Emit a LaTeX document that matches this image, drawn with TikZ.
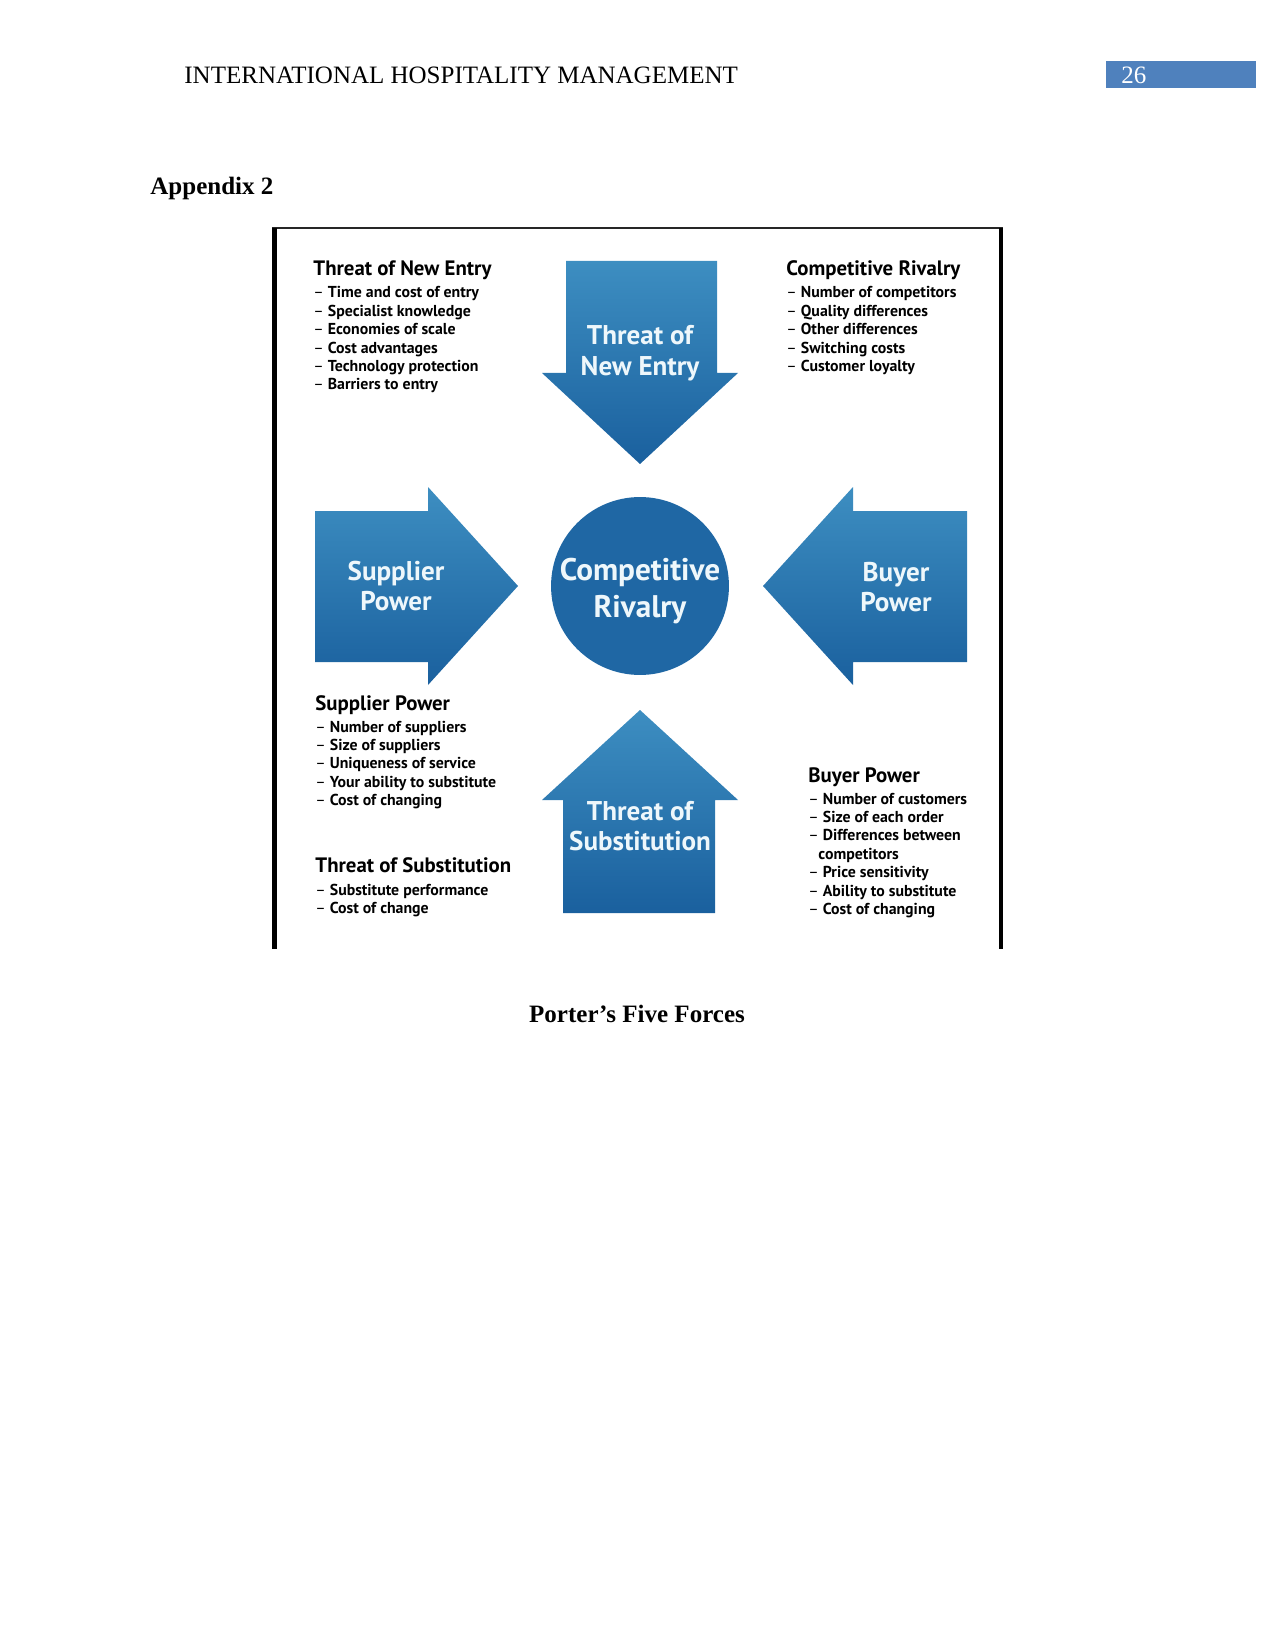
\documentclass[tikz,border=0pt]{standalone}
\usepackage{fontspec}
\setmainfont{Liberation Serif}
\newfontfamily\diafont{PT Sans}
\usetikzlibrary{positioning}

\definecolor{forceTop}{HTML}{3D8EC1}
\definecolor{forceBot}{HTML}{1A609E}
\definecolor{rivalBlue}{HTML}{1F67A4}
\definecolor{pageBlue}{HTML}{4F81BD}
\definecolor{labelWhite}{HTML}{EEF7FB}

\newcommand{\itemdash}{{\mdseries –}\ }

\begin{document}
\begin{tikzpicture}[x=0.48pt, y=-0.48pt,
  force/.style={shade, top color=forceTop, bottom color=forceBot, draw=none},
  flbl/.style={font=\diafont\bfseries\fontsize{13}{14.6}\selectfont,
               text=labelWhite, align=center, inner sep=0pt},
  ttl/.style={font=\diafont\bfseries\fontsize{10}{11}\selectfont,
              anchor=base west, inner sep=0pt},
  itm/.style={font=\diafont\bfseries\fontsize{7.6}{8.8}\selectfont,
              anchor=base west, inner sep=0pt}
]
  \useasboundingbox (0,0) rectangle (1275,1650);

  % Kopfzeile
  \node[anchor=base west, inner sep=0pt, font=\fontsize{12}{14}\selectfont]
    (head) at (184,84) {INTERNATIONAL HOSPITALITY MANAGEMENT};
  \fill[pageBlue] (1106,61) rectangle (1256,88);
  \node[anchor=base west, inner sep=0pt, text=white, font=\fontsize{12}{14}\selectfont]
    (pnum) at (1121,84) {26};
  \node[anchor=base west, inner sep=0pt, font=\bfseries\fontsize{12}{14}\selectfont]
    (app) at (150,195) {Appendix 2};

  % Rahmen des Bildes
  \draw[black!85, line width=0.8pt] (272,228) -- (1003,228);
  \fill[black] (272,228) rectangle (277,949);
  \fill[black] (999,228) rectangle (1003,949);

  % Pfeile
  \path[force] (566,261) -- (717,261) -- (717,373) -- (738,373) -- (640,464)
    -- (542,373) -- (566,373) -- cycle;
  \path[force] (640,710) -- (738,800) -- (715,800) -- (715,913) -- (563,913)
    -- (563,800) -- (542,800) -- cycle;
  \path[force] (315,511) -- (428,511) -- (428,487) -- (518,586) -- (428,685)
    -- (428,662) -- (315,662) -- cycle;
  \path[force] (967,511) -- (853,511) -- (853,487) -- (763,586) -- (853,685)
    -- (853,662) -- (967,662) -- cycle;

  % Kreis in der Mitte
  \node[circle, fill=rivalBlue, minimum size=85.4pt, inner sep=0pt]
    (rival) at (640,586) {};
  \node[flbl, font=\diafont\bfseries\fontsize{15}{17.5}\selectfont]
    (rivalLbl) at ([yshift=-2.4pt]rival.center) {Competitive\\Rivalry};

  % Beschriftung der Pfeile
  \node[flbl] (tneLbl) at (640,353) {Threat of\\New Entry};
  \node[flbl] (tosLbl) at (640,826) {Threat of\\Substitution};
  \node[flbl] (spLbl)  at (396,586) {Supplier\\Power};
  \node[flbl] (bpLbl)  at (896,587) {Buyer\\Power};

  % Listen
  \node[ttl] (tneTtl) at (313,276) {Threat of New Entry};
  \foreach \t [count=\i] in {Time and cost of entry, Specialist knowledge,
      Economies of scale, Cost advantages, Technology protection, Barriers to entry}
    \node[itm] (tne\i) at (313,298+18.4*\i-18.4) {\itemdash\t};

  \node[ttl] (crTtl) at (786,276) {Competitive Rivalry};
  \foreach \t [count=\i] in {Number of competitors, Quality differences,
      Other differences, Switching costs, Customer loyalty}
    \node[itm] (cr\i) at (786,298+18.4*\i-18.4) {\itemdash\t};

  \node[ttl] (spTtl) at (315,710) {Supplier Power};
  \foreach \t [count=\i] in {Number of suppliers, Size of suppliers,
      Uniqueness of service, Your ability to substitute, Cost of changing}
    \node[itm] (sp\i) at (315,732+18.4*\i-18.4) {\itemdash\t};

  \node[ttl] (tosTtl) at (315,872) {Threat of Substitution};
  \foreach \t [count=\i] in {Substitute performance, Cost of change}
    \node[itm] (tos\i) at (315,895+18.4*\i-18.4) {\itemdash\t};

  \node[ttl] (bpTtl) at (808,782) {Buyer Power};
  \node[itm] (bp1) at (808,804)   {\itemdash Number of customers};
  \node[itm] (bp2) at (808,822.4) {\itemdash Size of each order};
  \node[itm] (bp3) at (808,840.8) {\itemdash Differences between};
  \node[itm] (bp4) at (818,859.2) {competitors};
  \node[itm] (bp5) at (808,877.6) {\itemdash Price sensitivity};
  \node[itm] (bp6) at (808,896)   {\itemdash Ability to substitute};
  \node[itm] (bp7) at (808,914.4) {\itemdash Cost of changing};

  % Bildunterschrift
  \node[anchor=base, inner sep=0pt, font=\bfseries\fontsize{12}{14}\selectfont]
    (cap) at (637,1022) {Porter’s Five Forces};
\end{tikzpicture}
\end{document}
